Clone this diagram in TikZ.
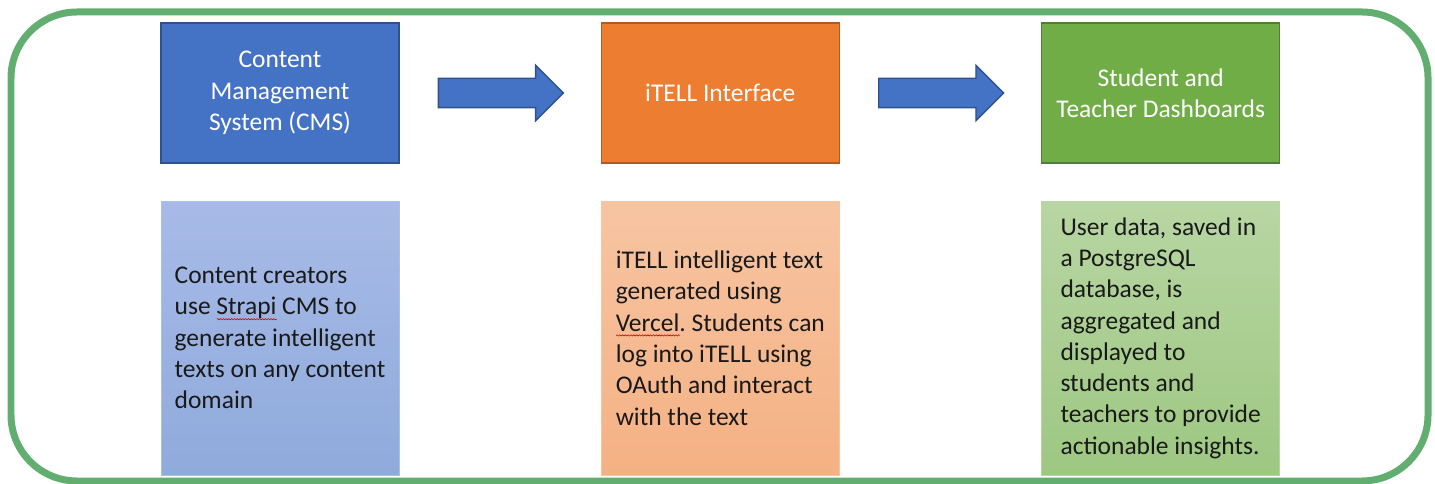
\documentclass[tikz,border=0pt]{standalone}
\usepackage{fontspec}
\setmainfont{Carlito}
\frenchspacing
\usetikzlibrary{positioning, calc, shapes.arrows, decorations.pathmorphing}
\definecolor{moldverde}{RGB}{98,174,112}
\definecolor{azul}{HTML}{4472C4}
\definecolor{azulborda}{HTML}{2F528F}
\definecolor{laranja}{HTML}{ED7D31}
\definecolor{laranjaborda}{HTML}{AE5A21}
\definecolor{verde}{HTML}{70AD47}
\definecolor{verdeborda}{HTML}{507E32}
\newcommand{\corretor}[1]{\setbox0\hbox{#1}\rlap{\tikz[baseline=0pt]\draw[red!85!black, line width=0.35pt, decorate, decoration={snake, amplitude=0.35pt, segment length=1.6pt}] (0pt,-2.4pt) -- (\wd0,-2.4pt);}#1}

\begin{document}
\begin{tikzpicture}[
        x=0.02cm, y=0.02cm,
        font=\fontsize{14.5}{17.8}\selectfont,
        titulo/.style={draw, line width=0.8pt, minimum width=4.76cm, minimum height=2.8cm, align=center, text=white, inner sep=0pt},
        detalhe/.style={draw, line width=0.5pt, minimum width=4.76cm, minimum height=5.48cm, align=left, inner sep=0pt, text=black!90},
        seta/.style={single arrow, draw=azulborda, fill=azul, line width=0.8pt, minimum height=2.5cm, inner xsep=0pt, inner ysep=0.28cm, single arrow head extend=0.26cm, single arrow tip angle=90, single arrow head indent=0pt, anchor=tail},
        moldura/.style={draw=moldverde, line width=0.14cm, rounded corners=1.32cm}
    ]
        \useasboundingbox (0,0) rectangle (1435,483);

        \node[titulo, fill=azul, draw=azulborda] at (280,390) (cms) {Content\\Management\\System (CMS)};
        \node[titulo, fill=laranja, draw=laranjaborda, right=4.02cm of cms] (itell) {iTELL Interface};
        \node[titulo, fill=verde, draw=verdeborda, right=4.02cm of itell] (painel) {Student and\\Teacher Dashboards};

        \node[detalhe, top color=blue!10!azul!45, bottom color=azul!60, draw=azul!45, below=0.74cm of cms] (cmsinfo) {Content creators\\use \corretor{Strapi} CMS to\\generate intelligent\\texts on any content\\domain};
        \node[detalhe, top color=laranja!45, bottom color=laranja!60, draw=laranja!45, below=0.74cm of itell] (itellinfo) {iTELL intelligent text\\generated using\\\corretor{Vercel}. Students can\\log into iTELL using\\OAuth and interact\\with the text};
        \node[detalhe, top color=verde!50, bottom color=verde!68, draw=verde!50, below=0.74cm of painel] (painelinfo) {User data, saved in\\a PostgreSQL\\database, is\\aggregated and\\displayed to\\students and\\teachers to provide\\actionable insights.};

        \node[seta] (seta1) at ([xshift=0.76cm]cms.east) {};
        \node[seta] (seta2) at ([xshift=0.76cm]itell.east) {};

        \draw[moldura] (11,2) rectangle (1428,471);
    \end{tikzpicture}
\end{document}
